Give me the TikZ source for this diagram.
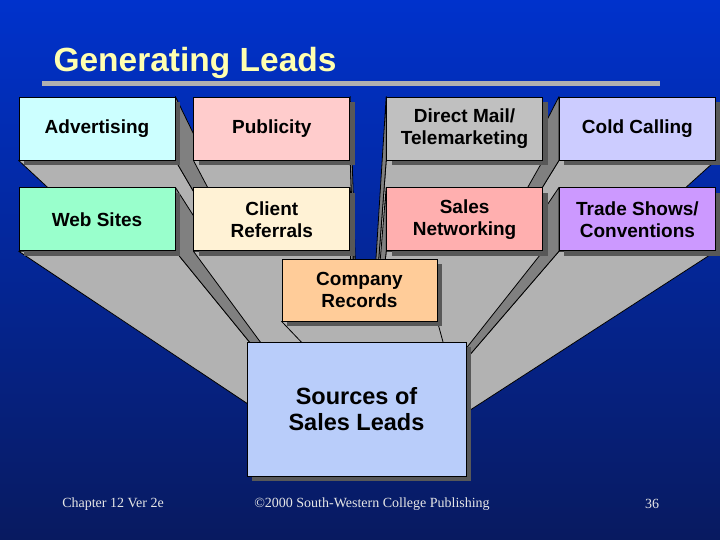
\documentclass[tikz,border=0pt]{standalone}
\usepackage{fontspec}
\setmainfont{Liberation Sans}
\newfontfamily\footfont{Liberation Serif}
\usepackage{xcolor}
\definecolor{colorSkyTop}{RGB}{0,50,204}
\definecolor{colorSkyMid}{RGB}{0,38,150}
\definecolor{colorSkyBottom}{RGB}{8,26,96}
\definecolor{colorTitle}{RGB}{255,255,176}
\definecolor{colorBar}{RGB}{176,176,176}
\definecolor{colorFace}{RGB}{178,178,178}
\definecolor{colorSide}{RGB}{128,128,128}
\definecolor{colorShadow}{RGB}{88,88,88}
\definecolor{colorFoot}{RGB}{230,230,230}
\definecolor{colorAdvertising}{RGB}{204,255,255}
\definecolor{colorPublicity}{RGB}{255,204,204}
\definecolor{colorDirectMail}{RGB}{192,192,192}
\definecolor{colorColdCalling}{RGB}{204,204,255}
\definecolor{colorWebSites}{RGB}{153,255,204}
\definecolor{colorClient}{RGB}{255,242,213}
\definecolor{colorSales}{RGB}{255,175,175}
\definecolor{colorTrade}{RGB}{204,153,255}
\definecolor{colorRecords}{RGB}{255,204,153}
\definecolor{colorSources}{RGB}{185,205,250}
\usepackage{tikz}
\usetikzlibrary{positioning, shadows, calc}
\pgfdeclarelayer{sky}
\pgfdeclarelayer{faces}
\pgfsetlayers{sky,faces,main}
\tikzset{lead/.style={draw=black, line width=0.8pt, minimum width=156pt, minimum height=63pt, inner sep=0pt, align=center, text=black,
  font=\fontsize{19}{22}\selectfont\bfseries,
  drop shadow={shadow xshift=5pt, shadow yshift=-5pt, fill=colorShadow, opacity=1}}}

\begin{document}
\begin{tikzpicture}[x=1pt, y=-1pt, node distance=18pt,
  face/.style={fill=colorFace, draw=black, line width=0.8pt, line join=round},
  side/.style={fill=colorSide, draw=black, line width=0.8pt, line join=round}]
\useasboundingbox (0,0) rectangle (720,540);
\begin{pgfonlayer}{sky}
\shade[top color=colorSkyTop, middle color=colorSkyMid, bottom color=colorSkyBottom] (0,0) rectangle (720,540);
\end{pgfonlayer}

% title
\node[anchor=base west, text=colorTitle, font=\fontsize{33.5}{40}\selectfont\bfseries] (title) at (50,72) {Generating Leads};
\fill[colorBar] (42,81) rectangle (660,86);

% sources of leads
\node[lead, fill=colorAdvertising] (adv) at (97,128.5) {Advertising};
\node[lead, fill=colorPublicity, right=of adv] (pub) {Publicity};
\node[lead, fill=colorDirectMail, right=36pt of pub] (mail) {Direct Mail/\\Telemarketing};
\node[lead, fill=colorColdCalling, right=16pt of mail] (cold) {Cold Calling};
\node[lead, fill=colorWebSites, below=27pt of adv] (web) {Web Sites};
\node[lead, fill=colorClient, below=27pt of pub] (client) {Client\\Referrals};
\node[lead, fill=colorSales, below=27pt of mail] (sales) {Sales\\Networking};
\node[lead, fill=colorTrade, below=27pt of cold] (trade) {Trade Shows/\\Conventions};
\node[lead, fill=colorRecords, minimum width=155pt, minimum height=62pt] (records) at (359.5,290) {Company\\Records};
\node[lead, fill=colorSources, minimum width=219pt, minimum height=134pt, font=\fontsize{23.5}{26}\selectfont\bfseries] (sources) at (356.5,409) {Sources of\\Sales Leads};
\coordinate (apex) at (362,480);

% funnel faces, outer boxes first
\begin{pgfonlayer}{faces}
\foreach \b/\s in {adv/east, cold/west, pub/east, mail/west, web/east, trade/west, client/east, sales/west} {
  \draw[face] (\b.south west) -- (\b.south east) -- (apex) -- cycle;
  \draw[side] (\b.north \s) -- (\b.south \s) -- (apex) -- cycle;
}
\draw[face] (records.south west) -- (records.south east) -- ($(records.south east)+(6,22)$) -- ($(records.south west)+(21,22)$) -- cycle;
\end{pgfonlayer}

% footer
\node[text=colorFoot, font=\footfont\fontsize{14}{16}\selectfont] (chapter) at (113,504) {Chapter 12 Ver 2e};
\node[text=colorFoot, font=\footfont\fontsize{14}{16}\selectfont] (copyright) at (372,504) {©2000 South-Western College Publishing};
\node[text=colorFoot, font=\footfont\fontsize{14}{16}\selectfont] (page) at (652,504) {36};
\end{tikzpicture}
\end{document}
